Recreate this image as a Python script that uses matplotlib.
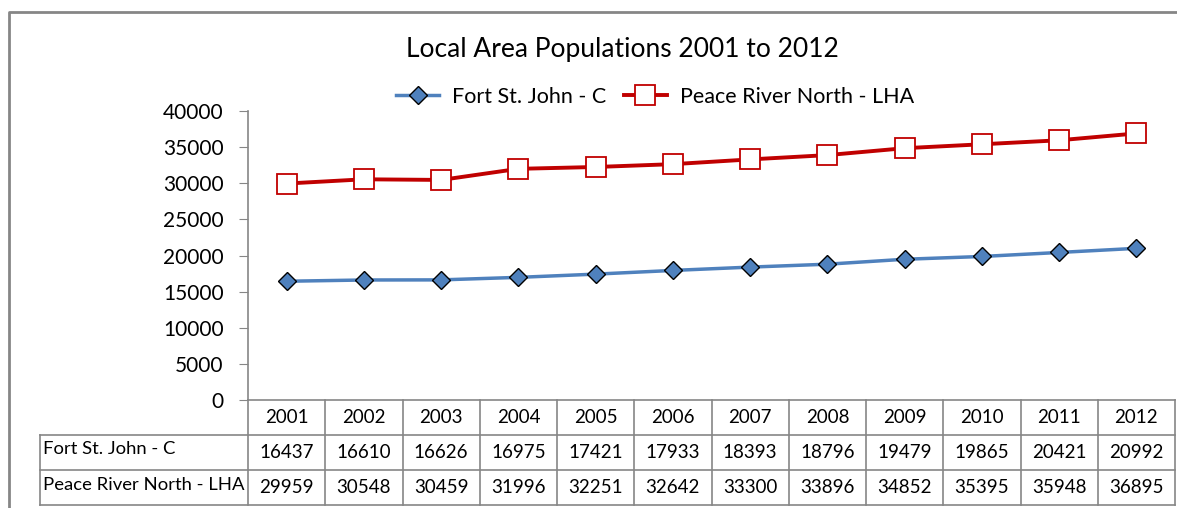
import matplotlib
matplotlib.use('Agg')
import matplotlib.pyplot as plt
import matplotlib.transforms as mtransforms

plt.rcParams['font.family'] = ['Lato', 'DejaVu Sans']

years = ['2001', '2002', '2003', '2004', '2005', '2006',
         '2007', '2008', '2009', '2010', '2011', '2012']
fort_st_john = [16437, 16610, 16626, 16975, 17421, 17933,
                18393, 18796, 19479, 19865, 20421, 20992]
peace_river = [29959, 30548, 30459, 31996, 32251, 32642,
               33300, 33896, 34852, 35395, 35948, 36895]
series_names = ['Fort St. John - C', 'Peace River North - LHA']

W, H = 1177, 508
fig = plt.figure(figsize=(W / 100, H / 100), dpi=100)
grey = '#868686'

# outer chart frame: only left and top edges are visible
fig.add_artist(plt.Line2D([9 / W, 9 / W, 1.0], [0, 1 - 12 / H, 1 - 12 / H],
                          transform=fig.transFigure, color=grey,
                          linewidth=2.0))

ax = fig.add_axes([248 / W, 108 / H, (1175 - 248) / W, (397 - 108) / H])
x = list(range(len(years)))

ax.plot(x, fort_st_john, color='#4F81BD', linewidth=2.5, marker='D',
        markersize=9.5, markerfacecolor='#4F81BD', markeredgecolor='black',
        markeredgewidth=1.0, label=series_names[0], zorder=3)
ax.plot(x, peace_river, color='#C00000', linewidth=2.8, marker='s',
        markersize=14, markerfacecolor='white', markeredgecolor='#C00000',
        markeredgewidth=1.3, label=series_names[1], zorder=3)

ax.set_xlim(-0.5, len(years) - 0.5)
ax.set_ylim(0, 40000)
ax.set_yticks(range(0, 40001, 5000))
ax.tick_params(axis='y', labelsize=15, length=6.5, color=grey, pad=11)
ax.set_xticks([])
for s in ['top', 'right']:
    ax.spines[s].set_visible(False)
for s in ['left', 'bottom']:
    ax.spines[s].set_color(grey)
    ax.spines[s].set_linewidth(1.2)

fig.text(622 / W, 1 - 50 / H, 'Local Area Populations 2001 to 2012',
         ha='center', va='center', fontsize=19)
fig.legend(loc='center', bbox_to_anchor=(655 / W, 1 - 97 / H), ncol=2,
           frameon=False, fontsize=15.5, handlelength=2.0, columnspacing=0.8,
           handletextpad=0.6)

# data table under the axis
tr = mtransforms.blended_transform_factory(ax.transData, fig.transFigure)
row_y = [400, 435, 470, 505]
fy = [1 - v / H for v in row_y]
lab_left = 40 / W
lk = dict(color=grey, linewidth=1.2, clip_on=False)

for yy in fy[1:]:
    fig.add_artist(plt.Line2D([lab_left, 1175 / W], [yy, yy],
                              transform=fig.transFigure, color=grey,
                              linewidth=1.2))
fig.add_artist(plt.Line2D([lab_left, lab_left], [fy[1], fy[3]],
                          transform=fig.transFigure, color=grey,
                          linewidth=1.2))
for i in range(len(years) + 1):
    ax.plot([i - 0.5, i - 0.5], [fy[0], fy[3]], transform=tr, **lk)

rows = [years, fort_st_john, peace_river]
for r, vals in enumerate(rows):
    yc = (fy[r] + fy[r + 1]) / 2
    for i, v in enumerate(vals):
        ax.text(i, yc, str(v), transform=tr, ha='center', va='center',
                fontsize=13.5)
for r, name in enumerate(series_names):
    yc = (fy[r + 1] + fy[r + 2]) / 2
    fig.text(lab_left + 3 / W, yc + 3 / H, name, ha='left', va='center',
             fontsize=13.3)

fig.savefig('out.png', dpi=100)
